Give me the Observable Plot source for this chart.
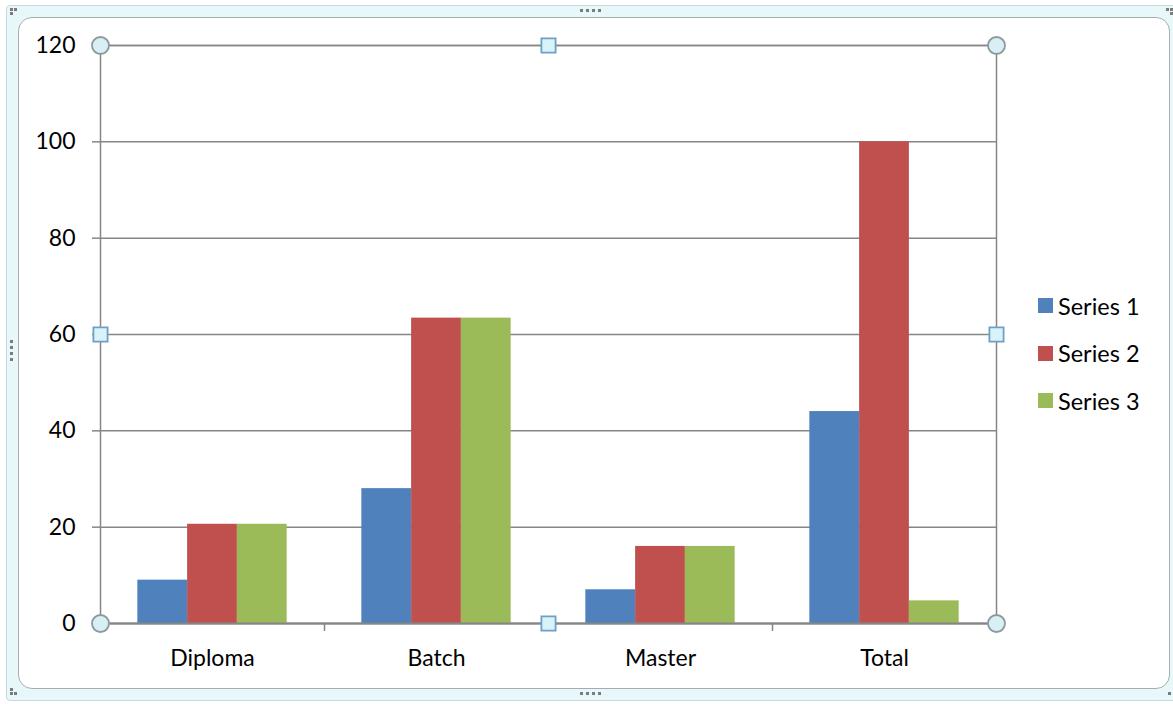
<!DOCTYPE html>
<html>
<head>
<meta charset="utf-8">
<script src="https://cdn.jsdelivr.net/npm/d3@7"></script>
<script src="https://cdn.jsdelivr.net/npm/@observablehq/plot@0.6"></script>
<style>
  html, body { margin: 0; padding: 0; background: #fff; }
  #chart { position: relative; width: 1173px; height: 704px; overflow: hidden; font-family: Lato, "Open Sans", sans-serif; }
  .outer { position: absolute; left: 6px; top: 5px; width: 1180px; height: 694px; background: #e7f7fa; border: 1px solid #c6dade; border-radius: 4px; }
  .inner { position: absolute; left: 18px; top: 17px; width: 1150px; height: 670px; background: #fff; border: 1.5px solid #a9acae; border-radius: 14px; }
  .grip { position: absolute; background: #7c7c7c; width: 3px; height: 3px; }
  #plot { position: absolute; left: 0; top: 0; }
  #legend { position: absolute; left: 1038px; top: 282px; }
  #legend .row { display: flex; align-items: center; height: 47.5px; font-size: 23.5px; color: #000; }
  #legend .sw { width: 15px; height: 15px; margin-right: 5px; }
</style>
</head>
<body>
<div id="chart">
  <div class="outer"></div>
  <div class="inner"></div>
</div>
<script>
// Categories, series and values
const categories = ["Diploma", "Batch", "Master", "Total"];
const seriesNames = ["Series 1", "Series 2", "Series 3"];
const series1 = [9, 28, 7, 44];
const series2 = [20.6, 63.4, 16, 100];
const series3 = [20.6, 63.4, 16, 4.7];
const seriesColors = ["#4F81BD", "#C0504D", "#9BBB59"];
const yTicks = [0, 20, 40, 60, 80, 100, 120];

const seriesValues = [series1, series2, series3];

// Clustered column layout in category units: each cluster takes 2/3 of its slot
const xDomain = [-0.5, categories.length - 0.5];
const clusterWidth = 2 / 3;
const barWidth = clusterWidth / seriesNames.length;

const rows = [];
seriesNames.forEach((name, k) => {
  categories.forEach((cat, i) => {
    const x1 = i - clusterWidth / 2 + k * barWidth;
    rows.push({category: cat, series: name, value: seriesValues[k][i], x1, x2: x1 + barWidth});
  });
});

const categoryPositions = categories.map((_, i) => i);
const boundaries = categories.slice(1).map((_, i) => i + 0.5);

// Selection handles around the plot area
const xMid = (xDomain[0] + xDomain[1]) / 2;
const yMax = yTicks[yTicks.length - 1];
const cornerHandles = [
  {x: xDomain[0], y: 0}, {x: xDomain[1], y: 0},
  {x: xDomain[0], y: yMax}, {x: xDomain[1], y: yMax}
];
const edgeHandles = [
  {x: xMid, y: 0}, {x: xMid, y: yMax},
  {x: xDomain[0], y: yMax / 2}, {x: xDomain[1], y: yMax / 2}
];

const axisGray = "#868686";
const font = "Lato, 'Open Sans', sans-serif";

const plot = Plot.plot({
  width: 1173,
  height: 704,
  marginLeft: 100,
  marginRight: 177,
  marginTop: 45,
  marginBottom: 81,
  style: {background: "transparent", fontFamily: font, fontSize: "23px", color: "#000", overflow: "visible"},
  x: {type: "linear", domain: xDomain, axis: null},
  y: {domain: [0, yMax], axis: null},
  color: {domain: seriesNames, range: seriesColors},
  marks: [
    Plot.gridY(yTicks, {stroke: axisGray, strokeOpacity: 1, strokeWidth: 1.5}),
    Plot.frame({stroke: axisGray, strokeWidth: 1.5}),
    Plot.rectY(rows, {x1: "x1", x2: "x2", y: "value", fill: "series"}),
    Plot.ruleY([0], {stroke: axisGray, strokeWidth: 2}),
    Plot.axisY(yTicks, {tickSize: 8, tickPadding: 17, stroke: axisGray, strokeWidth: 1.5, fill: "#000", fontSize: 23}),
    Plot.axisX(boundaries, {tickSize: 8, tickFormat: () => "", stroke: axisGray, strokeWidth: 1.5}),
    Plot.axisX(categoryPositions, {tickSize: 0, tickPadding: 26, tickFormat: i => categories[i], fill: "#000", fontSize: 23}),
    Plot.dot(cornerHandles, {x: "x", y: "y", r: 8.5, fill: "#d8eff4", stroke: "#8e999e", strokeWidth: 1.8}),
    Plot.dot(edgeHandles, {x: "x", y: "y", r: 8, symbol: "square", fill: "#d9f3fa", stroke: "#6f9fc4", strokeWidth: 1.8})
  ]
});
plot.id = "plot";
const chart = document.getElementById("chart");
chart.appendChild(plot);

// Legend
const legend = document.createElement("div");
legend.id = "legend";
seriesNames.forEach((name, k) => {
  const row = document.createElement("div");
  row.className = "row";
  const sw = document.createElement("div");
  sw.className = "sw";
  sw.style.background = seriesColors[k];
  const label = document.createElement("span");
  label.textContent = name;
  row.appendChild(sw);
  row.appendChild(label);
  legend.appendChild(row);
});
chart.appendChild(legend);

// Resize grips on the chart border
const grips = [
  [10, 8], [14, 8], [10, 12],
  [580, 9], [586, 9], [592, 9], [598, 9],
  [10, 340], [10, 346], [10, 352], [10, 358],
  [580, 692], [586, 692], [592, 692], [598, 692],
  [10, 692], [14, 692], [10, 688],
  [1166, 8], [1170, 8], [1170, 12],
  [1168, 692]
];
grips.forEach(([l, t]) => {
  const g = document.createElement("div");
  g.className = "grip";
  g.style.left = l + "px";
  g.style.top = t + "px";
  chart.appendChild(g);
});
</script>
</body>
</html>
